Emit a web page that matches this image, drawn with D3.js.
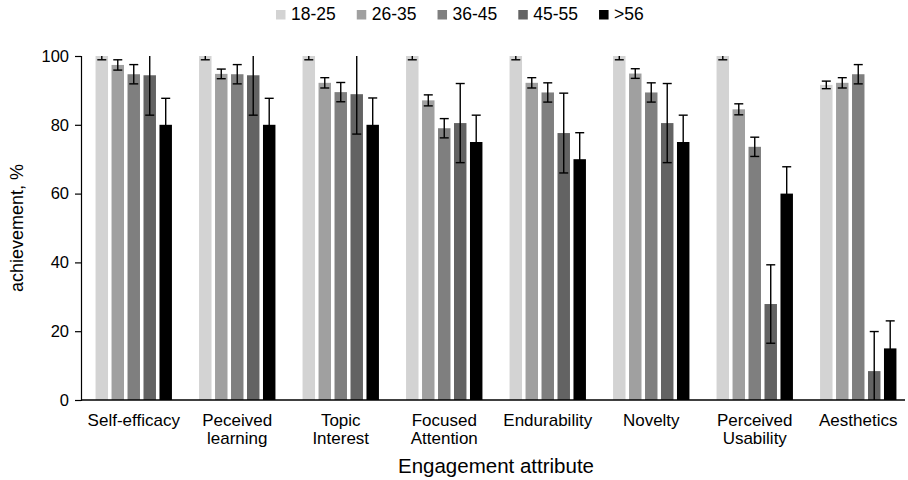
<!DOCTYPE html>
<html>
<head>
<meta charset="utf-8">
<script src="https://cdn.jsdelivr.net/npm/d3@7"></script>
<style>
  html, body { margin: 0; padding: 0; background: #fff; }
  svg { display: block; font-family: "Liberation Sans", Arial, sans-serif; }
</style>
</head>
<body>
<svg id="chart" width="908" height="480"></svg>
<script>
// Engagement attributes (x categories); "\n" splits a label onto two lines
const categories = [
  "Self-efficacy", "Peceived\nlearning", "Topic\nInterest", "Focused\nAttention",
  "Endurability", "Novelty", "Perceived\nUsability", "Aesthetics"
];
const ageGroups = ["18-25", "26-35", "36-45", "45-55", ">56"];
const groupColors = ["#d3d3d3", "#a0a0a0", "#7f7f7f", "#636363", "#000000"];

// Mean achievement (%) per age group, one value per category
const age18_25 = [100, 100, 100, 100, 100, 100, 100, 91.6];
const age26_35 = [97.4, 94.8, 92.2, 87.1, 92.2, 94.9, 84.5, 92.2];
const age36_45 = [94.7, 94.7, 89.5, 79.0, 89.4, 89.4, 73.6, 94.7];
const age45_55 = [94.4, 94.4, 88.9, 80.5, 77.6, 80.5, 27.9, 8.4];
const age56up  = [80, 80, 80, 75, 70, 75, 60, 15];

// Error (± %) per age group
const err18_25 = [1.1, 1.1, 1.1, 1.1, 1.1, 1.1, 1.1, 1.1];
const err26_35 = [1.5, 1.4, 1.5, 1.6, 1.5, 1.4, 1.6, 1.5];
const err36_45 = [2.8, 2.8, 2.8, 2.8, 2.8, 2.8, 2.8, 2.8];
const err45_55 = [11.6, 11.6, 11.6, 11.5, 11.6, 11.5, 11.4, 11.5];
const err56up  = [7.7, 7.7, 7.8, 7.8, 7.7, 7.8, 7.8, 8.0];

const yTicks = [0, 20, 40, 60, 80, 100];

const seriesValues = [age18_25, age26_35, age36_45, age45_55, age56up];
const seriesErrors = [err18_25, err26_35, err36_45, err45_55, err56up];

const svg = d3.select("#chart");
const plot = { left: 81, right: 905, top: 56, bottom: 400 };

const x0 = d3.scaleBand().domain(categories).range([82, 910])
  .paddingInner(0.262).paddingOuter(0.131);
const x1 = d3.scaleBand().domain(ageGroups).range([0, x0.bandwidth()])
  .paddingInner(0.22).paddingOuter(0);
const y = d3.scaleLinear().domain([0, 100]).range([plot.bottom, plot.top]);

// clip region for error whiskers running past the axis limits
svg.append("clipPath").attr("id", "plotClip")
  .append("rect")
  .attr("x", plot.left).attr("y", plot.top)
  .attr("width", 908 - plot.left).attr("height", plot.bottom - plot.top);

const rows = [];
categories.forEach((c, ci) => {
  ageGroups.forEach((g, gi) => {
    rows.push({ cat: c, group: gi, value: seriesValues[gi][ci], err: seriesErrors[gi][ci] });
  });
});

// bars
svg.append("g").selectAll("rect").data(rows).join("rect")
  .attr("x", d => x0(d.cat) + x1(ageGroups[d.group]))
  .attr("y", d => y(d.value))
  .attr("width", x1.bandwidth())
  .attr("height", d => y(0) - y(d.value))
  .attr("fill", d => groupColors[d.group]);

// error bars
const capHalf = 4.5;
const eb = svg.append("g").attr("clip-path", "url(#plotClip)")
  .attr("stroke", "#000").attr("stroke-width", 1.4).attr("fill", "none");
rows.forEach(d => {
  const cx = x0(d.cat) + x1(ageGroups[d.group]) + x1.bandwidth() / 2;
  const hi = y(d.value + d.err), lo = y(d.value - d.err);
  eb.append("line").attr("x1", cx).attr("x2", cx).attr("y1", hi).attr("y2", lo);
  eb.append("line").attr("x1", cx - capHalf).attr("x2", cx + capHalf).attr("y1", hi).attr("y2", hi);
  eb.append("line").attr("x1", cx - capHalf).attr("x2", cx + capHalf).attr("y1", lo).attr("y2", lo);
});

// y axis
const yAxis = svg.append("g").attr("transform", `translate(${plot.left},0)`)
  .call(d3.axisLeft(y).tickValues(yTicks).tickSize(6).tickPadding(6));
yAxis.select(".domain").attr("stroke", "#000").attr("stroke-width", 1.2);
yAxis.selectAll(".tick line").attr("stroke", "#000").attr("stroke-width", 1.2);
yAxis.selectAll(".tick text").attr("font-size", 16.5).attr("fill", "#000")
  .attr("font-family", "Liberation Sans, Arial, sans-serif");

// x axis baseline
svg.append("line")
  .attr("x1", plot.left).attr("x2", plot.right)
  .attr("y1", y(0)).attr("y2", y(0))
  .attr("stroke", "#000").attr("stroke-width", 1.5);

// category labels
const catLabels = svg.append("g").attr("font-size", 17).attr("text-anchor", "middle").attr("fill", "#000");
categories.forEach(c => {
  const t = catLabels.append("text").attr("x", x0(c) + x0.bandwidth() / 2).attr("y", 425.5);
  c.split("\n").forEach((line, i) => {
    t.append("tspan").attr("x", x0(c) + x0.bandwidth() / 2).attr("dy", i === 0 ? 0 : 18).text(line);
  });
});

// axis titles
svg.append("text").attr("x", 496).attr("y", 473).attr("text-anchor", "middle")
  .attr("font-size", 20.5).attr("fill", "#000").text("Engagement attribute");
svg.append("text").attr("transform", "translate(23,228) rotate(-90)")
  .attr("text-anchor", "middle").attr("font-size", 18).attr("fill", "#000")
  .text("achievement, %");

// legend
const legend = svg.append("g");
let lx = 276;
ageGroups.forEach((g, i) => {
  legend.append("rect").attr("x", lx).attr("y", 10).attr("width", 9.5).attr("height", 9.5)
    .attr("fill", groupColors[i]);
  const t = legend.append("text").attr("x", lx + 15).attr("y", 20).attr("font-size", 17.5)
    .attr("fill", "#000").text(g);
  lx += 15 + t.node().getComputedTextLength() + 21;
});
</script>
</body>
</html>
